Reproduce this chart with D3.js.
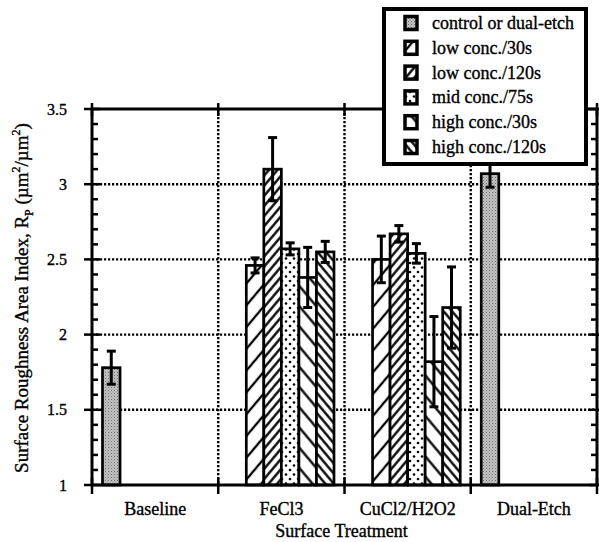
<!DOCTYPE html>
<html><head><meta charset="utf-8">
<script src="https://cdn.jsdelivr.net/npm/d3@7/dist/d3.min.js"></script>
<style>body{margin:0;background:#fff}svg{display:block}text{font-family:"Liberation Serif","Times New Roman",serif;fill:#000;stroke:#000;stroke-width:0.35px}</style>
</head><body>
<script>
const categories = ["Baseline","FeCl3","CuCl2/H2O2","Dual-Etch"];
const seriesNames = ["control or dual-etch","low conc./30s","low conc./120s","mid conc./75s","high conc./30s","high conc./120s"];
const control   = [1.78, null, null, 3.07];
const controlErr= [0.11, null, null, 0.09];
const low30     = [null, 2.46, 2.50, null];
const low30Err  = [null, 0.05, 0.155, null];
const low120    = [null, 3.10, 2.67, null];
const low120Err = [null, 0.21, 0.055, null];
const mid75     = [null, 2.57, 2.54, null];
const mid75Err  = [null, 0.04, 0.065, null];
const high30    = [null, 2.38, 1.82, null];
const high30Err = [null, 0.20, 0.30, null];
const high120   = [null, 2.55, 2.18, null];
const high120Err= [null, 0.07, 0.27, null];
const yTicks = [1, 1.5, 2, 2.5, 3, 3.5];
const yTickLabels = ["1","1.5","2","2.5","3","3.5"];

const values = [control, low30, low120, mid75, high30, high120];
const errors = [controlErr, low30Err, low120Err, mid75Err, high30Err, high120Err];
const patIds = ["pGray","pLowSparse","pLowDense","pDots","pHighSparse","pHighDense"];

const W = 599, H = 542;
const L = 92, R = 597, T = 109, B = 485;
const svg = d3.select("body").append("svg").attr("width", W).attr("height", H);
const defs = svg.append("defs");

// patterns
const g1 = defs.append("pattern").attr("id","pGray").attr("patternUnits","userSpaceOnUse").attr("width",3).attr("height",3);
g1.append("rect").attr("width",3).attr("height",3).attr("fill","#c4c4c4");
g1.append("rect").attr("x",0).attr("y",0).attr("width",1).attr("height",1).attr("fill","#6a6a6a");
g1.append("rect").attr("x",1.5).attr("y",1.5).attr("width",1).attr("height",1).attr("fill","#8a8a8a");

function linePattern(id, spacing, angle){
  const p = defs.append("pattern").attr("id",id).attr("patternUnits","userSpaceOnUse")
    .attr("width",20).attr("height",spacing).attr("patternTransform",`rotate(${angle})`);
  p.append("rect").attr("width",20).attr("height",spacing).attr("fill","#fff");
  p.append("line").attr("x1",0).attr("x2",20).attr("y1",spacing/2).attr("y2",spacing/2)
    .attr("stroke","#000").attr("stroke-width",2.3);
}
linePattern("pLowSparse", 14, -50);
linePattern("pLowDense", 6.5, -50);
linePattern("pHighSparse", 13, 50);
linePattern("pHighDense", 6.5, 50);
const pd = defs.append("pattern").attr("id","pDots").attr("patternUnits","userSpaceOnUse").attr("width",8).attr("height",9);
pd.append("rect").attr("width",8).attr("height",9).attr("fill","#fff");
pd.append("circle").attr("cx",2).attr("cy",2).attr("r",1.3).attr("fill","#000");
pd.append("circle").attr("cx",6).attr("cy",6.5).attr("r",1.3).attr("fill","#000");

const x = d3.scaleBand().domain(categories).range([L, R]).padding(0);
const bw = x.bandwidth();
const x1 = d3.scaleBand().domain(seriesNames).range([10.5, bw - 10.5]).padding(0);
const y = d3.scaleLinear().domain([1, 3.5]).range([B, T]);

// grid
const grid = svg.append("g").attr("stroke","#000").attr("stroke-width",2.4).attr("stroke-dasharray","2.2,1.8").attr("fill","none");
[1.5,2,2.5,3].forEach(v => grid.append("line").attr("x1",L).attr("x2",R).attr("y1",y(v)).attr("y2",y(v)));
categories.slice(1).forEach(c => grid.append("line").attr("x1",x(c)).attr("x2",x(c)).attr("y1",T).attr("y2",B));

// bars
const bars = [];
categories.forEach((c, ci) => {
  seriesNames.forEach((s, si) => {
    const v = values[si][ci];
    if (v == null) return;
    bars.push({c, s, si, v, e: errors[si][ci]});
  });
});
svg.append("g").selectAll("rect").data(bars).join("rect")
  .attr("x", d => x(d.c) + x1(d.s))
  .attr("y", d => y(d.v))
  .attr("width", x1.bandwidth())
  .attr("height", d => y(1) - y(d.v))
  .attr("fill", d => `url(#${patIds[d.si]})`)
  .attr("stroke","#000").attr("stroke-width",2.7);

// error bars
const eg = svg.append("g").attr("stroke","#000").attr("stroke-width",3);
bars.forEach(d => {
  const cx = x(d.c) + x1(d.s) + x1.bandwidth()/2;
  eg.append("line").attr("x1",cx).attr("x2",cx).attr("y1",y(d.v + d.e)).attr("y2",y(d.v - d.e));
  [d.v + d.e, d.v - d.e].forEach(t => eg.append("line").attr("x1",cx-4.5).attr("x2",cx+4.5).attr("y1",y(t)).attr("y2",y(t)));
});

// frame
svg.append("rect").attr("x",L).attr("y",T).attr("width",R-L).attr("height",B-T)
  .attr("fill","none").attr("stroke","#000").attr("stroke-width",3);

// y axes ticks (left and right)
const yAxisL = d3.axisLeft(y).tickValues(yTicks).tickFormat((d,i) => yTickLabels[i]).tickSize(0).tickPadding(25);
const gl = svg.append("g").attr("transform",`translate(${L},0)`).call(yAxisL);
gl.select(".domain").remove();
gl.selectAll("text").attr("font-size",16).style("font-family","'Liberation Serif',serif");
const tk = svg.append("g").attr("stroke","#000");
d3.range(10, 36).map(v => v/10).forEach(v => {
  const major = Math.abs(v*2 - Math.round(v*2)) < 1e-6;
  if (major) {
    tk.append("line").attr("x1",L-8).attr("x2",L+8).attr("y1",y(v)).attr("y2",y(v)).attr("stroke-width",2.5);
    tk.append("line").attr("x1",R-8).attr("x2",R+3).attr("y1",y(v)).attr("y2",y(v)).attr("stroke-width",2.5);
  } else {
    tk.append("line").attr("x1",L).attr("x2",L+6).attr("y1",y(v)).attr("y2",y(v)).attr("stroke-width",2.5);
    tk.append("line").attr("x1",R-6).attr("x2",R).attr("y1",y(v)).attr("y2",y(v)).attr("stroke-width",2.5);
  }
});
// x ticks at band boundaries
[L, ...categories.slice(1).map(c => x(c)), R].forEach(px => {
  tk.append("line").attr("x1",px).attr("x2",px).attr("y1",B-7).attr("y2",B+9).attr("stroke-width",2.5);
  tk.append("line").attr("x1",px).attr("x2",px).attr("y1",T-6).attr("y2",T+7).attr("stroke-width",2.5);
});

// x labels
const xAxis = d3.axisBottom(x).tickSize(0).tickPadding(17);
const gx = svg.append("g").attr("transform",`translate(0,${B})`).call(xAxis);
gx.select(".domain").remove();
gx.selectAll("text").attr("font-size",18).style("font-family","'Liberation Serif',serif");

svg.append("text").attr("x",(L+R)/2 - 3).attr("y",537).attr("text-anchor","middle").attr("font-size",18).text("Surface Treatment");

// y title
const yt = svg.append("text").attr("transform","translate(28,298) rotate(-90)").attr("text-anchor","middle").attr("font-size",19);
yt.append("tspan").text("Surface Roughness Area Index, R");
yt.append("tspan").attr("dy",5).attr("font-size",12).text("P");
yt.append("tspan").attr("dy",-5).text(" (\u00b5m");
yt.append("tspan").attr("dy",-8).attr("font-size",12).text("2");
yt.append("tspan").attr("dy",8).text("/\u00b5m");
yt.append("tspan").attr("dy",-8).attr("font-size",12).text("2");
yt.append("tspan").attr("dy",8).text(")");

// legend
const lg = svg.append("g");
lg.append("rect").attr("x",384).attr("y",9).attr("width",202).attr("height",155)
  .attr("fill","#fff").attr("stroke","#000").attr("stroke-width",4);
seriesNames.forEach((s, i) => {
  const cy = 23 + i*24.8;
  lg.append("rect").attr("x",405).attr("y",cy-6.5).attr("width",12).attr("height",13)
    .attr("fill",`url(#${patIds[i]})`).attr("stroke","#000").attr("stroke-width",3.5);
  lg.append("text").attr("x",432).attr("y",cy+6).attr("font-size",18).text(s);
});
</script>
</body></html>
